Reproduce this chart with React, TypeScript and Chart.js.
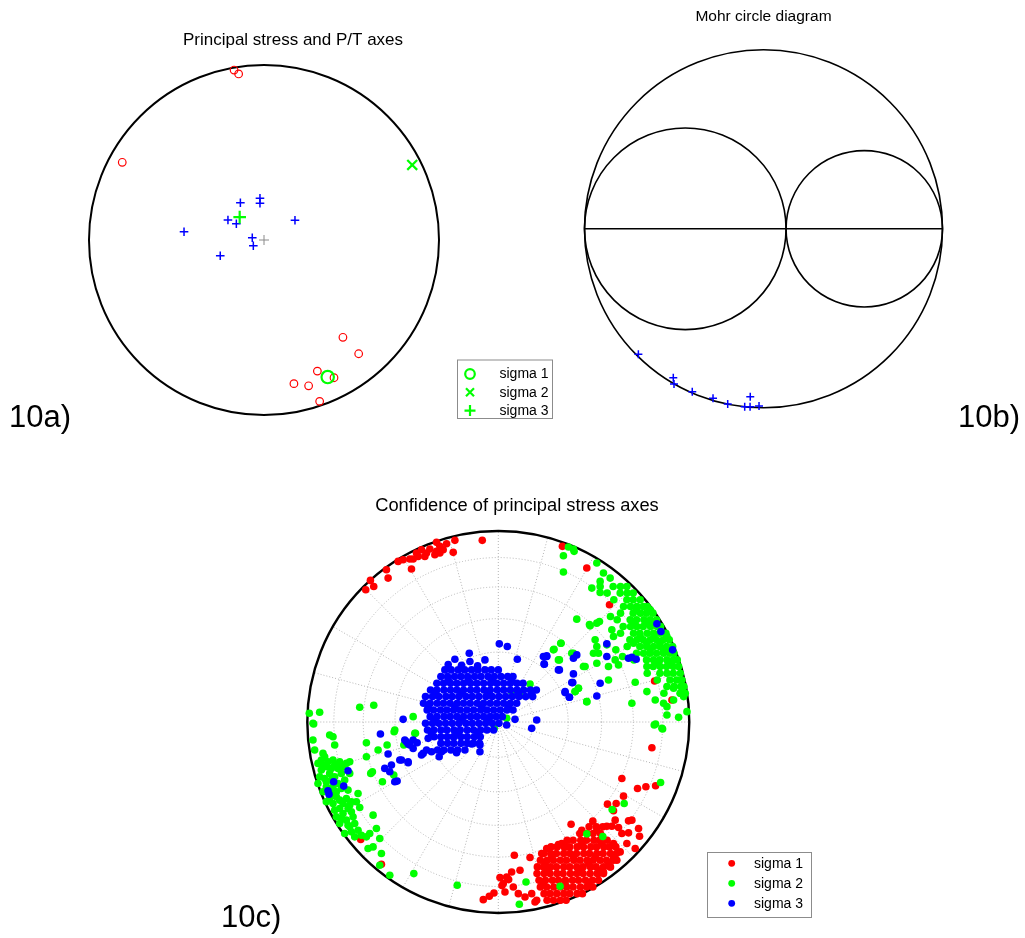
import React, { useEffect, useRef } from "react";
import { Chart, registerables } from "chart.js";

Chart.register(...registerables);

const FONT = "'Liberation Sans', Arial, Helvetica, sans-serif";
const RED = "#ff0000";
const GREEN = "#00ff00";
const BLUE = "#0000ff";

type Pt = [number, number];

// ---------------- 10a: Principal stress and P/T axes (unit equal-area net) ----------------
const P_AXES: Pt[] = [
  [-0.171, 0.971], [-0.145, 0.949], [-0.81, 0.444], [0.451, -0.556], [0.541, -0.65],
  [0.305, -0.749], [0.4, -0.787], [0.171, -0.821], [0.255, -0.833], [0.318, -0.922],
];
const T_AXES: Pt[] = [
  [-0.135, 0.213], [-0.023, 0.238], [-0.023, 0.21], [-0.206, 0.114], [-0.158, 0.093],
  [0.177, 0.113], [-0.457, 0.047], [-0.067, 0.013], [-0.061, -0.033], [-0.25, -0.09],
];
const SIGMA1_STEREO: Pt[] = [[0.364, -0.783]];
const SIGMA2_STEREO: Pt[] = [[0.847, 0.429]];
const SIGMA3_STEREO: Pt[] = [[-0.139, 0.131]];
const NET_CENTER: Pt[] = [[0, 0]];
const LEGEND_A_LABELS = ["sigma 1", "sigma 2", "sigma 3"];

// ---------------- 10b: Mohr circle diagram (normalised) ----------------
const MOHR_CIRCLES = [
  { cx: 0, cy: 0, r: 1 },
  { cx: -0.437, cy: 0, r: 0.563 },
  { cx: 0.563, cy: 0, r: 0.437 },
];
const MOHR_AXIS: [number, number, number, number][] = [[-1, 0, 1, 0]];
const MOHR_POINTS: Pt[] = [
  [-0.699, -0.701], [-0.504, -0.832], [-0.5, -0.867], [-0.398, -0.91], [-0.282, -0.947],
  [-0.2, -0.979], [-0.074, -0.938], [-0.105, -0.994], [-0.075, -0.994], [-0.025, -0.99],
];

// ---------------- 10c: Confidence of principal stress axes (net radius = 572) ----------------
const NET_RADIUS = 572;
const GRID_PLUNGES = [15, 30, 45, 60, 75];
const SPOKE_STEP_DEG = 15;
const LEGEND_C_LABELS = ["sigma 1", "sigma 2", "sigma 3"];

const SIGMA1_SCATTER: Pt[] = [
  [-48, 544], [-130, 544], [-155, 534], [-185, 538], [-175, 526], [-190, 501], [-205, 518], [-230, 516], [-240, 496],
  [-255, 488], [-265, 488], [-285, 486], [-300, 481], [-220, 496], [-185, 511], [-135, 508], [-260, 458], [-330, 431],
  [-335, 456], [-383, 424], [-397, 396], [-373, 406], [-215, 506], [-245, 506], [-175, 506], [-165, 516],
  [192, 526], [265, 461], [333, 351], [468, 123], [520, 66], [460, -77], [370, -169], [417, -199], [442, -194], [471, -191],
  [-412, -352], [-350, -426],
  [375, -222], [353, -244], [327, -246], [400, -294], [390, -296], [345, -266], [350, -294], [340, -312], [360, -316],
  [283, -297], [218, -306], [250, -324], [295, -324], [325, -312], [370, -334], [390, -332], [420, -319], [423, -342],
  [385, -364], [410, -379], [365, -389], [355, -414], [335, -434], [315, -449], [300, -454],
  [48, -399], [95, -406], [145, -379], [180, -367], [205, -374], [130, -394], [40, -449], [65, -444], [25, -464],
  [15, -484], [20, -509], [45, -494], [60, -514], [80, -524], [100, -514], [110, -539], [115, -534],
  [-45, -532], [-27, -522], [-13, -512], [5, -466], [11, -490], [31, -472],
];
const SIGMA1_CORE_ROWS: [number, number[]][] = [
  [-314, [272, 294, 313]],
  [-334, [244, 266, 284, 306]],
  [-354, [206, 224, 247, 264, 286, 303, 326]],
  [-364, [190, 250, 310, 345]],
  [-374, [158, 176, 197, 214, 236, 255, 277, 294, 316, 333, 352]],
  [-394, [136, 157, 174, 196, 215, 234, 256, 273, 295, 314, 336, 354]],
  [-404, [160, 225, 290, 345]],
  [-414, [126, 146, 165, 186, 204, 226, 245, 266, 284, 305, 324, 345]],
  [-424, [140, 270, 330]],
  [-434, [117, 135, 156, 174, 196, 214, 235, 254, 276, 293, 315, 336]],
  [-444, [150, 245, 305]],
  [-454, [116, 137, 155, 176, 194, 216, 235, 254, 275, 296, 315]],
  [-474, [122, 141, 162, 180, 201, 222, 240, 261, 282, 300]],
  [-484, [135, 200, 270]],
  [-494, [126, 145, 166, 186, 205, 224, 246, 265, 283]],
  [-514, [137, 155, 175, 196, 214, 236, 252]],
  [-534, [146, 165, 186, 203]],
];

const SIGMA2_SCATTER: Pt[] = [
  [195, 498], [195, 449], [235, 308], [275, 288], [303, 301], [280, 401], [305, 388], [188, 236], [165, 216],
  [180, 186], [220, 206], [260, 166], [300, 206], [295, 176], [330, 166], [330, 126], [240, 101], [230, 91],
  [265, 61], [400, 56], [410, 119], [445, 91], [470, 66], [495, 56], [325, 231], [350, 186], [360, 171],
  [225, 518], [295, 476], [315, 446], [335, 431], [305, 421], [210, 524], [227, 511],
  [467, -9], [490, -19], [505, 21], [540, 14], [565, 31], [555, 76], [525, 66], [505, 46], [525, 101], [545, 86],
  [471, -6], [492, -21], [486, -181], [377, -244], [341, -262], [265, -335], [313, -343], [83, -479], [185, -492], [63, -546],
  [167, 218], [187, 236], [183, 186], [225, 206], [230, 91], [240, 101], [265, 61], [255, 166], [273, 292],
  [295, 296], [290, 246], [295, 226], [285, 206], [340, 276], [336, 316], [345, 256], [352, 216], [372, 196],
  [95, 114], [25, 11], [-12, -19], [40, 91], [65, 81],
  [-566, 26], [-535, 29], [-415, 44], [-373, 50], [-255, 16], [-555, -4], [-283, -69], [-248, -34], [-310, -24],
  [-313, -159], [-382, -154],
  [-553, -6], [-505, -39], [-495, -44], [-490, -69], [-555, -54], [-550, -84], [-525, -94], [-520, -104], [-540, -124],
  [-495, -114], [-475, -119], [-445, -119], [-455, -124], [-480, -139], [-445, -154], [-515, -134], [-530, -144],
  [-535, -164], [-520, -169], [-505, -154], [-500, -174], [-540, -184], [-515, -194], [-525, -209], [-500, -214],
  [-485, -209], [-475, -234], [-455, -229], [-440, -239], [-425, -239], [-420, -214], [-415, -256], [-450, -259],
  [-475, -259], [-495, -244], [-515, -239], [-485, -284], [-455, -294], [-435, -284], [-430, -304], [-445, -314],
  [-475, -304], [-460, -334], [-430, -344], [-395, -344], [-385, -334], [-365, -319], [-355, -349], [-375, -374],
  [-390, -379], [-350, -394], [-355, -429], [-325, -459], [-253, -454], [-123, -489], [-395, -62], [-360, -84],
  [-333, -69], [-395, -104], [-377, -149], [-347, -179], [-312, -29], [-250, -34], [-375, -279], [-410, -339],
  [-530, -114], [-510, -119], [-490, -129], [-465, -134], [-525, -129], [-500, -139], [-470, -154], [-490, -164],
  [-515, -179], [-480, -184], [-460, -174], [-495, -194], [-470, -199], [-450, -204], [-505, -229], [-485, -224],
  [-465, -244], [-445, -249], [-490, -264], [-465, -274], [-440, -269], [-470, -289], [-450, -309], [-420, -324],
  [-440, -329],
];
const SIGMA2_CORE_ROWS: [number, number[]][] = [
  [406, [305, 344, 366, 385]],
  [386, [326, 365, 386, 404]],
  [366, [346, 385, 404, 425]],
  [346, [375, 396, 415, 434, 446]],
  [336, [414, 455]],
  [326, [366, 404, 426, 444, 463]],
  [306, [356, 395, 414, 436, 455, 474]],
  [296, [404, 445, 466]],
  [286, [374, 396, 415, 434, 456, 476, 486]],
  [266, [366, 405, 424, 446, 465, 484, 502]],
  [256, [425, 466, 505]],
  [246, [394, 415, 434, 455, 474, 494, 512]],
  [236, [405, 445, 484]],
  [226, [386, 424, 444, 465, 484, 504, 522]],
  [216, [455, 494, 515]],
  [206, [414, 435, 454, 474, 495, 514, 526]],
  [186, [406, 444, 465, 484, 505, 524, 536]],
  [176, [474, 515]],
  [166, [445, 464, 485, 504, 524, 540]],
  [146, [446, 484, 505, 524, 545]],
  [126, [476, 514, 534, 550]],
  [106, [505, 526, 546, 556]],
  [86, [496, 545, 560]],
];

const SIGMA3_SCATTER: Pt[] = [
  [3, 234], [27, 226], [57, 188], [-130, 188], [-87, 206], [-85, 181], [-40, 186], [-110, 170], [-62, 168], [-150, 172],
  [145, 196], [138, 173], [183, 156], [225, 144], [223, 118], [200, 91], [213, 74], [115, 6], [100, -19], [50, 8],
  [25, -9], [-285, 8], [-280, -54], [-270, -66], [-255, -79], [-290, -114], [-270, -122], [-225, -94], [-177, -104],
  [-170, -89], [-200, -89], [-125, -92], [-100, -84], [-55, -89], [-55, -69], [-80, -66], [-135, -44], [-210, -49],
  [-353, -36], [-275, -59], [-255, -54], [-265, -69], [-243, -62], [-215, -84], [-230, -99], [-295, -114], [-270, -119],
  [-330, -96], [-320, -129], [-340, -139], [-325, -149], [-310, -179], [-303, -177], [-450, -146], [-493, -179],
  [-463, -192], [-510, -206], [-507, -216],
  [475, 294], [487, 271], [522, 216], [400, 194], [413, 188], [390, 191], [325, 234], [325, 196], [235, 201],
  [225, 191], [180, 156], [145, 198], [137, 174], [135, 196], [220, 118], [200, 88], [213, 74], [295, 78], [305, 116],
];
const SIGMA3_CORE_ROWS: [number, number[]][] = [
  [156, [-160, -141, -120, -101, -80, -61, -40, -21, 0]],
  [136, [-172, -152, -131, -112, -92, -71, -52, -31, -12, 8, 28, 44]],
  [126, [-150, -90, -20, 40]],
  [116, [-184, -164, -143, -124, -104, -83, -64, -44, -23, -4, 16, 36, 56, 74]],
  [96, [-203, -184, -163, -143, -124, -104, -83, -64, -43, -24, -3, 16, 36, 56, 76, 96, 114]],
  [86, [-190, -110, -30, 60, 100]],
  [76, [-218, -197, -178, -157, -138, -118, -97, -78, -58, -37, -18, 2, 22, 42, 62, 82, 103]],
  [56, [-224, -204, -183, -164, -144, -123, -104, -84, -63, -44, -24, -4, 16, 36, 55]],
  [46, [-210, -130, -50, 30]],
  [36, [-213, -194, -173, -154, -134, -114, -94, -74, -53, -34, -14, 6, 26, 44]],
  [16, [-204, -184, -163, -144, -124, -104, -83, -64, -44, -24, -6, 12]],
  [6, [-190, -110, -30]],
  [-4, [-218, -197, -178, -158, -138, -118, -97, -78, -58, -38, -18, 2]],
  [-24, [-212, -193, -172, -154, -133, -114, -93, -74, -53, -34, -14]],
  [-34, [-200, -120, -60]],
  [-44, [-192, -172, -153, -132, -112, -93, -72, -54]],
  [-64, [-172, -152, -133, -112, -93, -74, -56]],
  [-84, [-182, -163, -142, -122]],
];

// ---------------- helpers ----------------
const toXY = (pts: Pt[]) => pts.map(([x, y]) => ({ x, y }));
const expandRows = (rows: [number, number[]][]): Pt[] =>
  rows.flatMap(([y, xs]) => xs.map((x) => [x, y] as Pt));

type Sym = "ring" | "x" | "plus" | "dot";
function drawSymbol(ctx: CanvasRenderingContext2D, sym: Sym, x: number, y: number, size: number, color: string, lw: number) {
  ctx.save();
  ctx.strokeStyle = color;
  ctx.fillStyle = color;
  ctx.lineWidth = lw;
  ctx.beginPath();
  if (sym === "ring") {
    ctx.arc(x, y, size, 0, Math.PI * 2);
    ctx.stroke();
  } else if (sym === "dot") {
    ctx.arc(x, y, size, 0, Math.PI * 2);
    ctx.fill();
  } else if (sym === "x") {
    ctx.moveTo(x - size, y - size);
    ctx.lineTo(x + size, y + size);
    ctx.moveTo(x - size, y + size);
    ctx.lineTo(x + size, y - size);
    ctx.stroke();
  } else {
    ctx.moveTo(x - size, y);
    ctx.lineTo(x + size, y);
    ctx.moveTo(x, y - size);
    ctx.lineTo(x, y + size);
    ctx.stroke();
  }
  ctx.restore();
}

function circlesPlugin(id: string, circles: { cx: number; cy: number; r: number }[], lineWidth: number, segments: [number, number, number, number][] = []) {
  return {
    id,
    beforeDatasetsDraw(chart: any) {
      const { ctx, scales } = chart;
      const xs = scales.x;
      const ys = scales.y;
      ctx.save();
      ctx.strokeStyle = "#000";
      ctx.lineWidth = lineWidth;
      for (const c of circles) {
        const px = xs.getPixelForValue(c.cx);
        const py = ys.getPixelForValue(c.cy);
        const pr = Math.abs(xs.getPixelForValue(c.cx + c.r) - px);
        ctx.beginPath();
        ctx.arc(px, py, pr, 0, Math.PI * 2);
        ctx.stroke();
      }
      for (const [x1, y1, x2, y2] of segments) {
        ctx.beginPath();
        ctx.moveTo(xs.getPixelForValue(x1), ys.getPixelForValue(y1));
        ctx.lineTo(xs.getPixelForValue(x2), ys.getPixelForValue(y2));
        ctx.stroke();
      }
      ctx.restore();
    },
  };
}

function netGridPlugin(radius: number, plunges: number[], spokeStep: number) {
  return {
    id: "netGrid",
    beforeDatasetsDraw(chart: any) {
      const { ctx, scales } = chart;
      const cx = scales.x.getPixelForValue(0);
      const cy = scales.y.getPixelForValue(0);
      const rp = Math.abs(scales.x.getPixelForValue(radius) - cx);
      ctx.save();
      ctx.strokeStyle = "#b4b4b4";
      ctx.lineWidth = 1;
      ctx.setLineDash([1, 2]);
      for (const p of plunges) {
        const rr = rp * Math.SQRT2 * Math.sin(((90 - p) / 2) * (Math.PI / 180));
        ctx.beginPath();
        ctx.arc(cx, cy, rr, 0, Math.PI * 2);
        ctx.stroke();
      }
      for (let a = 0; a < 360; a += spokeStep) {
        const t = (a * Math.PI) / 180;
        ctx.beginPath();
        ctx.moveTo(cx, cy);
        ctx.lineTo(cx + rp * Math.cos(t), cy - rp * Math.sin(t));
        ctx.stroke();
      }
      ctx.setLineDash([]);
      ctx.strokeStyle = "#000";
      ctx.lineWidth = 2.4;
      ctx.beginPath();
      ctx.arc(cx, cy, rp, 0, Math.PI * 2);
      ctx.stroke();
      ctx.restore();
    },
  };
}

type LegendItem = { label: string; color: string; sym: Sym; size: number; lw: number };
function legendPlugin(id: string, box: { left: number; top: number; width: number; height: number }, items: LegendItem[], firstY: number, stepY: number, symX: number, textX: number, fontSize: number) {
  return {
    id,
    afterDraw(chart: any) {
      const ctx: CanvasRenderingContext2D = chart.ctx;
      ctx.save();
      ctx.fillStyle = "#fff";
      ctx.fillRect(box.left, box.top, box.width, box.height);
      ctx.strokeStyle = "#8c8c8c";
      ctx.lineWidth = 1;
      ctx.strokeRect(box.left + 0.5, box.top + 0.5, box.width, box.height);
      items.forEach((it, i) => {
        const y = firstY + i * stepY;
        drawSymbol(ctx, it.sym, symX, y, it.size, it.color, it.lw);
        ctx.fillStyle = "#000";
        ctx.font = `${fontSize}px ${FONT}`;
        ctx.textAlign = "left";
        ctx.textBaseline = "middle";
        ctx.fillText(it.label, textX, y + 0.5);
      });
      ctx.restore();
    },
  };
}

const baseOptions = {
  animation: false as const,
  responsive: true,
  maintainAspectRatio: false,
  devicePixelRatio: 1,
  events: [] as any[],
};

const hiddenRightAxis = (min: number, max: number, width: number) => ({
  type: "linear" as const,
  min,
  max,
  position: "right" as const,
  ticks: { display: false },
  grid: { display: false },
  border: { display: false },
  afterFit: (s: any) => {
    s.width = width;
  },
});

// ---------------- chart configs ----------------
function configA(): any {
  return {
    type: "scatter",
    data: {
      datasets: [
        { label: "sigma 1", data: toXY(SIGMA1_STEREO), pointStyle: "circle", pointRadius: 6.2, pointBorderWidth: 2.2, pointBorderColor: GREEN, pointBackgroundColor: "rgba(0,0,0,0)", clip: false },
        { label: "sigma 2", data: toXY(SIGMA2_STEREO), pointStyle: "crossRot", pointRadius: 7, pointBorderWidth: 2.2, pointBorderColor: GREEN, clip: false },
        { label: "sigma 3", data: toXY(SIGMA3_STEREO), pointStyle: "cross", pointRadius: 6.3, pointBorderWidth: 2.2, pointBorderColor: GREEN, clip: false },
        { label: "centre", data: toXY(NET_CENTER), pointStyle: "cross", pointRadius: 5, pointBorderWidth: 1, pointBorderColor: "#8a8a8a", clip: false },
        { label: "T axes", data: toXY(T_AXES), pointStyle: "cross", pointRadius: 4.3, pointBorderWidth: 1.5, pointBorderColor: BLUE, clip: false },
        { label: "P axes", data: toXY(P_AXES), pointStyle: "circle", pointRadius: 3.8, pointBorderWidth: 1.2, pointBorderColor: RED, pointBackgroundColor: "rgba(0,0,0,0)", clip: false },
      ],
    },
    options: {
      ...baseOptions,
      layout: { padding: { left: 89, right: 63, top: 0, bottom: 15 } },
      plugins: {
        legend: { display: false },
        tooltip: { enabled: false },
        title: { display: true, text: "Principal stress and P/T axes", color: "#000", font: { family: FONT, size: 17, weight: "normal" }, padding: { top: 30, bottom: 14.6 } },
      },
      scales: { x: { type: "linear", min: -1, max: 1, display: false }, y: hiddenRightAxis(-1, 1, 58) },
    },
    plugins: [
      circlesPlugin("primitiveA", [{ cx: 0, cy: 0, r: 1 }], 2),
      legendPlugin("legendA", { left: 457, top: 359.5, width: 95, height: 58.5 }, [
        { label: LEGEND_A_LABELS[0], color: GREEN, sym: "ring", size: 4.8, lw: 2.2 },
        { label: LEGEND_A_LABELS[1], color: GREEN, sym: "x", size: 4, lw: 2.2 },
        { label: LEGEND_A_LABELS[2], color: GREEN, sym: "plus", size: 5.5, lw: 2.2 },
      ], 374, 18.3, 470, 499.5, 14),
    ],
  };
}

function configB(): any {
  return {
    type: "scatter",
    data: {
      datasets: [
        { label: "planes", data: toXY(MOHR_POINTS), pointStyle: "cross", pointRadius: 4, pointBorderWidth: 1.5, pointBorderColor: BLUE, clip: false },
      ],
    },
    options: {
      ...baseOptions,
      layout: { padding: { left: 24.5, right: 82.5, top: 0, bottom: 22.2 } },
      plugins: {
        legend: { display: false },
        tooltip: { enabled: false },
        title: { display: true, text: "Mohr circle diagram", color: "#000", font: { family: FONT, size: 15.5, weight: "normal" }, padding: { top: 7.7, bottom: 23.5 } },
      },
      scales: { x: { type: "linear", min: -1, max: 1, display: false }, y: { type: "linear", min: -1, max: 1, display: false } },
    },
    plugins: [circlesPlugin("mohr", MOHR_CIRCLES, 1.6, MOHR_AXIS)],
  };
}

function configC(): any {
  const s1 = toXY([...SIGMA1_SCATTER, ...expandRows(SIGMA1_CORE_ROWS)]);
  const s2 = toXY([...SIGMA2_SCATTER, ...expandRows(SIGMA2_CORE_ROWS)]);
  const s3 = toXY([...SIGMA3_SCATTER, ...expandRows(SIGMA3_CORE_ROWS)]);
  const common = { pointStyle: "circle", pointRadius: 3.8, pointBorderWidth: 0, clip: false };
  return {
    type: "scatter",
    data: {
      datasets: [
        { label: "sigma 3", data: s3, pointBackgroundColor: BLUE, ...common },
        { label: "sigma 2", data: s2, pointBackgroundColor: GREEN, ...common },
        { label: "sigma 1", data: s1, pointBackgroundColor: RED, ...common },
      ],
    },
    options: {
      ...baseOptions,
      layout: { padding: { left: 107.3, right: 113.3, top: 0, bottom: 25 } },
      plugins: {
        legend: { display: false },
        tooltip: { enabled: false },
        title: { display: true, text: "Confidence of principal stress axes", color: "#000", font: { family: FONT, size: 18.3, weight: "normal" }, padding: { top: 25, bottom: 14.04 } },
      },
      scales: {
        x: { type: "linear", min: -NET_RADIUS, max: NET_RADIUS, display: false },
        y: hiddenRightAxis(-NET_RADIUS, NET_RADIUS, 37.4),
      },
    },
    plugins: [
      netGridPlugin(NET_RADIUS, GRID_PLUNGES, SPOKE_STEP_DEG),
      legendPlugin("legendC", { left: 507, top: 382, width: 104, height: 65 }, [
        { label: LEGEND_C_LABELS[0], color: RED, sym: "dot", size: 3.4, lw: 1 },
        { label: LEGEND_C_LABELS[1], color: GREEN, sym: "dot", size: 3.4, lw: 1 },
        { label: LEGEND_C_LABELS[2], color: BLUE, sym: "dot", size: 3.4, lw: 1 },
      ], 393.3, 20, 531.7, 554, 14),
    ],
  };
}

function ChartBox({ left, top, width, height, make }: { left: number; top: number; width: number; height: number; make: () => any }) {
  const ref = useRef<HTMLCanvasElement>(null);
  useEffect(() => {
    if (!ref.current) return;
    const chart = new Chart(ref.current, make());
    return () => chart.destroy();
  }, [make]);
  return (
    <div style={{ position: "absolute", left, top, width, height }}>
      <canvas ref={ref} />
    </div>
  );
}

const panelLabel = (left: number, baseline: number): React.CSSProperties => ({
  position: "absolute",
  left,
  top: baseline - 26.25,
  font: `31px ${FONT}`,
  lineHeight: "31px",
  color: "#000",
  whiteSpace: "nowrap",
});

export default function App() {
  return (
    <div style={{ position: "absolute", left: 0, top: 0, width: 1025, height: 938, background: "#fff", overflow: "hidden" }}>
      <ChartBox left={0} top={0} width={560} height={430} make={configA} />
      <ChartBox left={560} top={0} width={465} height={430} make={configB} />
      <ChartBox left={200} top={470} width={640} height={468} make={configC} />
      <div style={panelLabel(9, 427)}>10a)</div>
      <div style={panelLabel(958, 427)}>10b)</div>
      <div style={panelLabel(221, 927)}>10c)</div>
    </div>
  );
}
